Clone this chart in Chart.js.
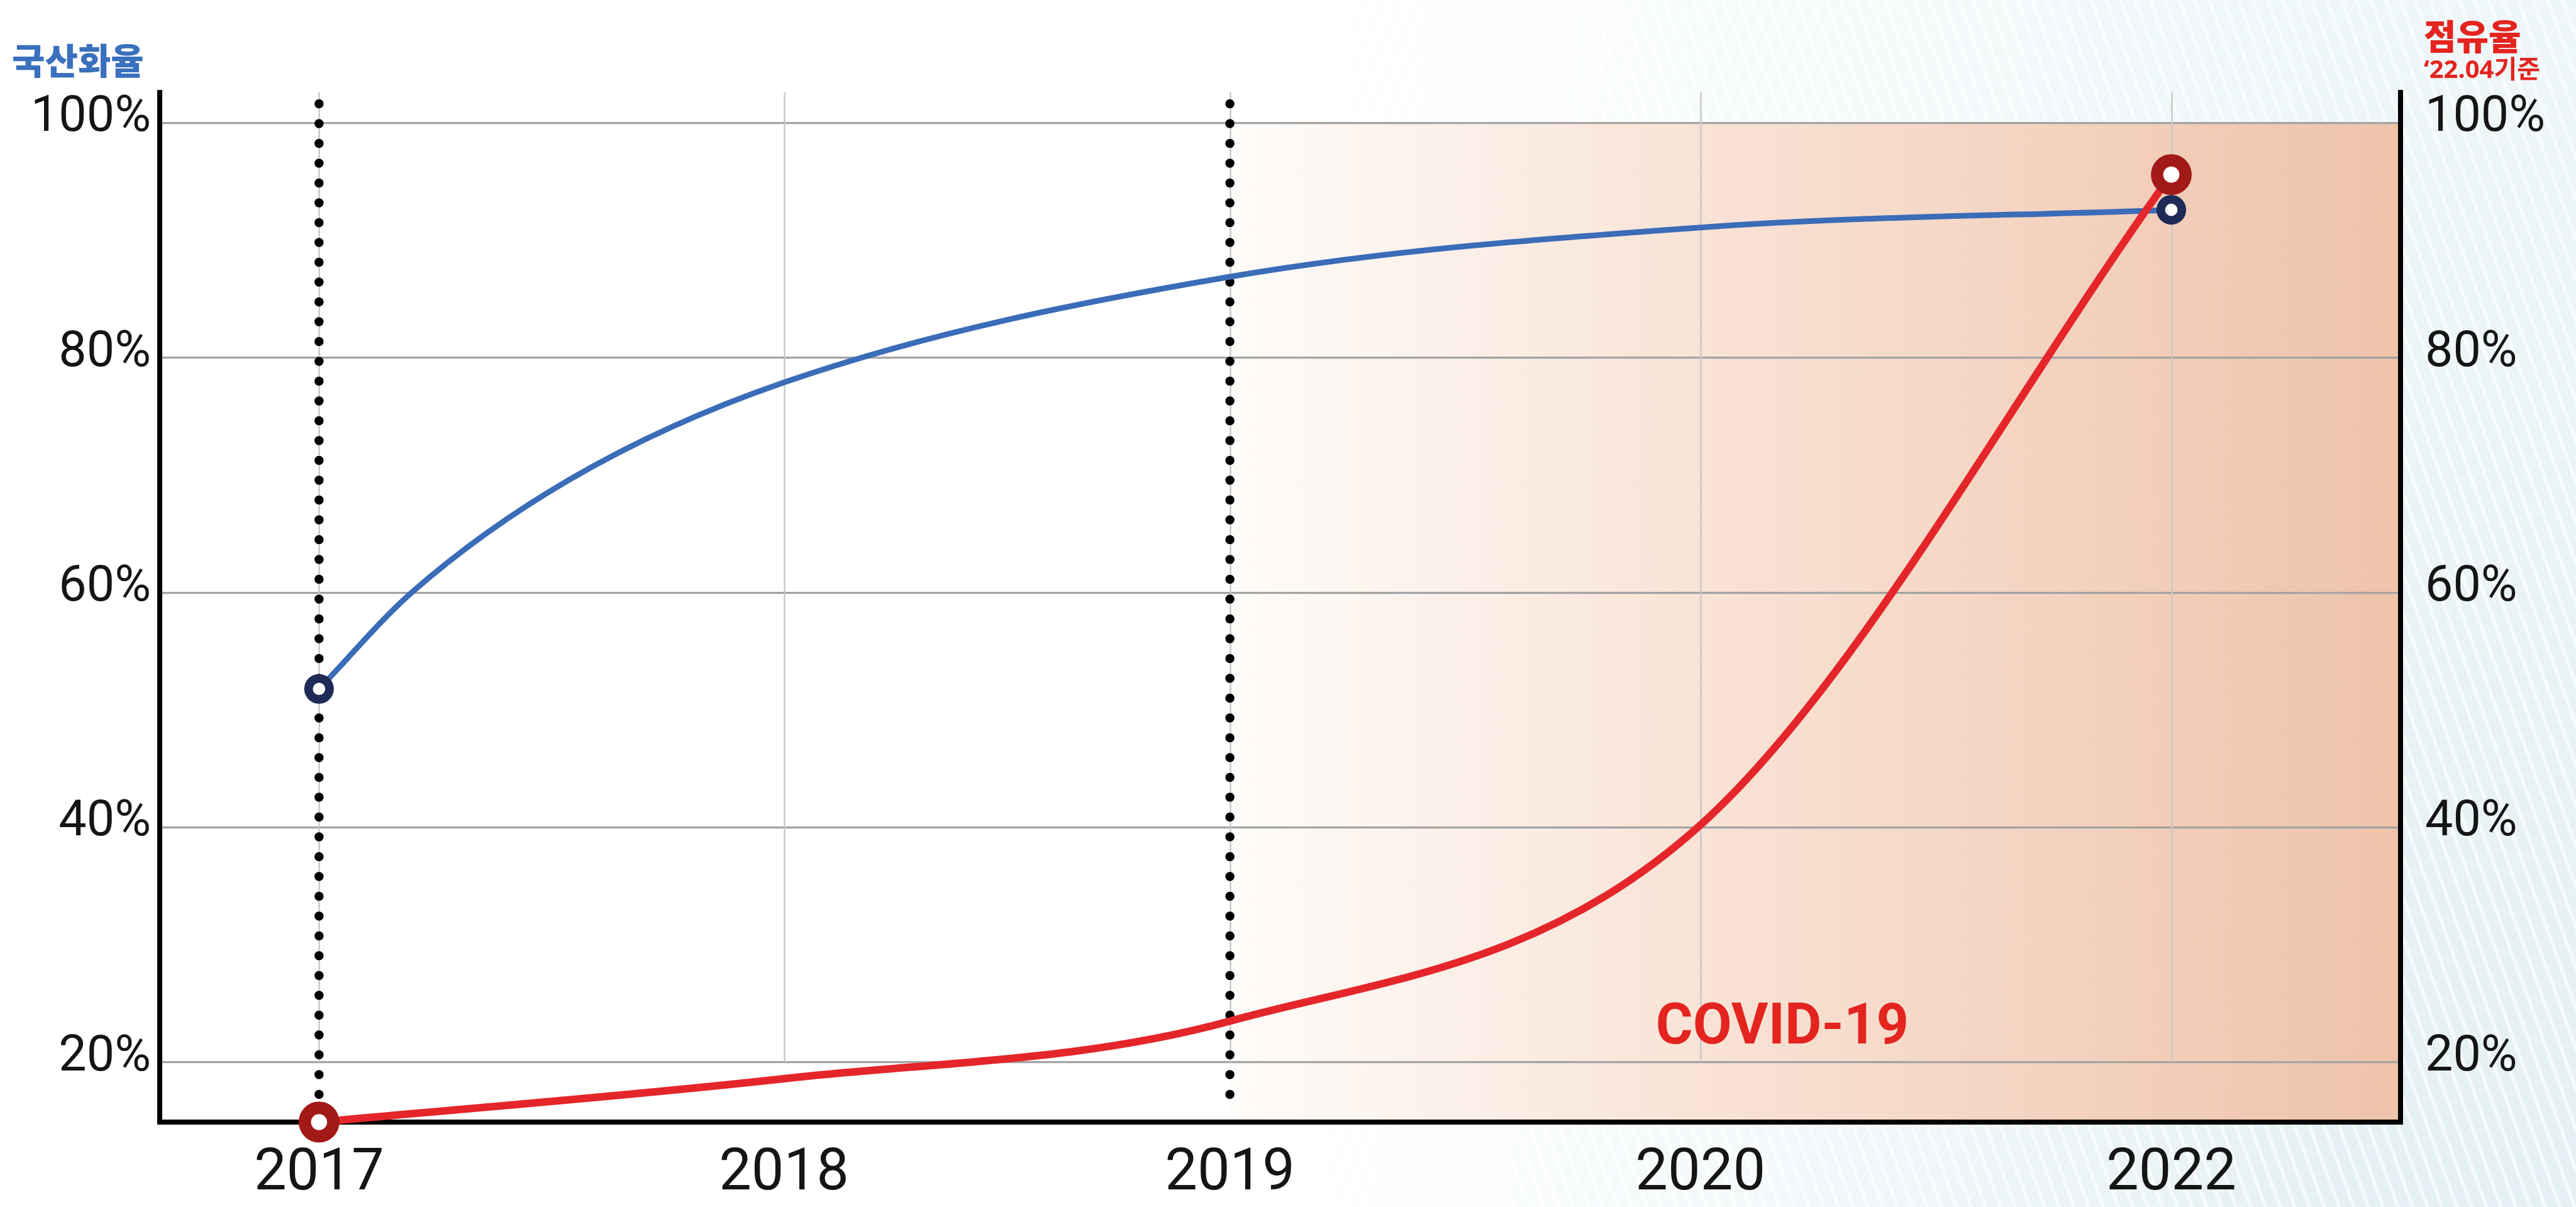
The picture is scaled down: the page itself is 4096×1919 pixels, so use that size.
<!DOCTYPE html>
<html lang="ko">
<head>
<meta charset="utf-8">
<title>국산화율 / 점유율</title>
<script src="https://cdn.jsdelivr.net/npm/chart.js@4.4.1/dist/chart.umd.min.js"></script>
<style>
  html, body { margin: 0; padding: 0; }
  body {
    width: 4096px;
    height: 1919px;
    overflow: hidden;
    background:
      linear-gradient(90deg, #ffffff 0%, #ffffff 50%, rgba(255,255,255,0) 92%),
      repeating-linear-gradient(70deg, rgba(255,255,255,0) 0px, rgba(255,255,255,0) 16px, rgba(255,255,255,0.6) 16px, rgba(255,255,255,0.6) 22px),
      linear-gradient(180deg, #eef6f8 0%, #e5f0f4 100%);
  }
  #wrap { position: relative; width: 4096px; height: 1919px; }
</style>
</head>
<body>
<div id="wrap"><canvas id="chart"></canvas></div>
<script>
// data
const years = ["2017", "2018", "2019", "2020", "2022"];
const yearPos = [0, 1.004, 1.967, 2.983, 4];   // where each year sits on the x axis
const yTicks = [20, 40, 60, 80, 100];

// 국산화율 (blue) - yearly values plus a few points
const localizationX = [0, 0.2, 0.54, 1.004, 1.967, 2.983, 4];
const localizationRate = [51.8, 60.0, 69.6, 77.9, 86.9, 91.1, 92.6];

// 점유율 (red)
const marketShare = [14.9, 18.6, 23.5, 40.2, 95.6];

const dottedYears = ["2017", "2019"];
const shadeFromYear = "2019";

const endsOnly = (r) => (ctx) => {
    const n = ctx.dataset.data.length;
    return (ctx.dataIndex === 0 || ctx.dataIndex === n - 1) ? r : 0;
};
const posOf = (yr) => yearPos[years.indexOf(yr)];

//extra drawing: shaded period, vertical guides, titles
const decorations = {
    id: "decorations",
    beforeDraw(chart) {
        const { ctx, chartArea, scales: { x, y } } = chart;
        const x0 = x.getPixelForValue(posOf(shadeFromYear));
        const top = y.getPixelForValue(100);
        const g = ctx.createLinearGradient(x0, 0, chartArea.right, 0);
        g.addColorStop(0, "#fefcfa");
        g.addColorStop(0.35, "#f9e6da");
        g.addColorStop(0.75, "#f3d0bc");
        g.addColorStop(1, "#eec3aa");
        ctx.save();
        ctx.fillStyle = g;
        ctx.fillRect(x0, top, chartArea.right - x0, chartArea.bottom - top);
        ctx.restore();
    },
    beforeDatasetsDraw(chart) {
        const { ctx, chartArea, scales: { x, y } } = chart;
        ctx.save();
        //light vertical grid lines, they stop at the 20% line
        ctx.strokeStyle = "#c8c8c8";
        ctx.lineWidth = 2.5;
        yearPos.forEach((p) => {
            const px = Math.round(x.getPixelForValue(p)) + 0.5;
            ctx.beginPath();
            ctx.moveTo(px, chartArea.top);
            ctx.lineTo(px, y.getPixelForValue(yTicks[0]));
            ctx.stroke();
        });
        //dotted black lines
        ctx.strokeStyle = "#000";
        ctx.lineWidth = 14.5;
        ctx.lineCap = "round";
        ctx.setLineDash([0, 31.5]);
        dottedYears.forEach((yr) => {
            const px = x.getPixelForValue(posOf(yr));
            ctx.beginPath();
            ctx.moveTo(px, chartArea.top + 18);
            ctx.lineTo(px, chartArea.bottom - 15);
            ctx.stroke();
        });
        ctx.restore();
    },
    afterDraw(chart) {
        const { ctx, scales: { x } } = chart;
        ctx.save();
        ctx.textBaseline = "alphabetic";
        ctx.textAlign = "left";
        ctx.fillStyle = "#3a70bd";
        ctx.font = "900 57px 'Noto Sans CJK KR'";
        ctx.fillText("국산화율", 19, 118);

        ctx.fillStyle = "#e4241f";
        ctx.font = "900 56px 'Noto Sans CJK KR'";
        ctx.fillText("점유율", 3854, 79);
        ctx.font = "bold 40px 'Noto Sans', 'Noto Sans CJK KR'";
        ctx.fillText("\u201822.04기준", 3854, 124);

        ctx.font = "bold 90px Roboto";
        ctx.textAlign = "center";
        ctx.fillText("COVID-19", x.getPixelForValue(3.16), 1659);
        ctx.restore();
    },
};

const data = {
    datasets: [
        {
            label: "점유율",
            data: marketShare.map((v, i) => ({ x: yearPos[i], y: v })),
            borderColor: "#e4262a",
            borderWidth: 12,
            cubicInterpolationMode: "monotone",
            pointRadius: endsOnly(22.6),
            pointBorderWidth: 19.6,
            pointBackgroundColor: "#ffffff",
            pointBorderColor: "#a21a17",
            clip: false,
            order: 0,
        },
        {
            label: "국산화율",
            data: localizationRate.map((v, i) => ({ x: localizationX[i], y: v })),
            borderColor: "#3a6cb8",
            borderWidth: 9,
            cubicInterpolationMode: "monotone",
            pointRadius: endsOnly(16.7),
            pointBorderWidth: 13.7,
            pointBackgroundColor: "#ffffff",
            pointBorderColor: "#1f2a57",
            clip: false,
            order: 1,
        },
    ],
};

const setTicks = (values) => (axis) => {
    axis.ticks = values.map((v) => ({ value: v }));
};

const config = {
    type: "line",
    data: data,
    options: {
        responsive: true,
        maintainAspectRatio: false,
        animation: false,
        events: [],
        layout: { padding: { top: 147, left: 0, right: 0, bottom: 0 } },
        plugins: {
            legend: { display: false },
            tooltip: { enabled: false },
        },
        scales: {
            x: {
                type: "linear",
                min: -0.344,
                max: 4.495,
                afterBuildTicks: setTicks(yearPos),
                afterFit: (s) => { s.height = 135; },
                grid: { color: "rgba(0,0,0,0)", lineWidth: 8, drawTicks: false },
                border: { color: "#000", width: 8 },
                ticks: {
                    autoSkip: false,
                    maxRotation: 0,
                    padding: 29,
                    color: "#151515",
                    font: { family: "Roboto", size: 92 },
                    callback: (v) => years[yearPos.indexOf(v)],
                },
            },
            y: {
                position: "left",
                min: 14.9,
                max: 102.6,
                afterBuildTicks: setTicks(yTicks),
                afterFit: (s) => { s.width = 254; },
                grid: { color: "#a3a3a3", lineWidth: 3.3, drawTicks: false },
                border: { color: "#000", width: 8 },
                ticks: {
                    padding: 14,
                    labelOffset: -7,
                    color: "#151515",
                    font: { family: "Roboto", size: 79 },
                    callback: (v) => v + "%",
                },
            },
            y2: {
                position: "right",
                min: 14.9,
                max: 102.6,
                afterBuildTicks: setTicks(yTicks),
                afterFit: (s) => { s.width = 279; },
                grid: { display: false, lineWidth: 8, drawTicks: false },
                border: { color: "#000", width: 8 },
                ticks: {
                    padding: 39,
                    labelOffset: -7,
                    color: "#151515",
                    font: { family: "Roboto", size: 79 },
                    callback: (v) => v + "%",
                },
            },
        },
    },
    plugins: [decorations],
};

const myChart = new Chart(document.querySelector("#chart"), config);
</script>
</body>
</html>
